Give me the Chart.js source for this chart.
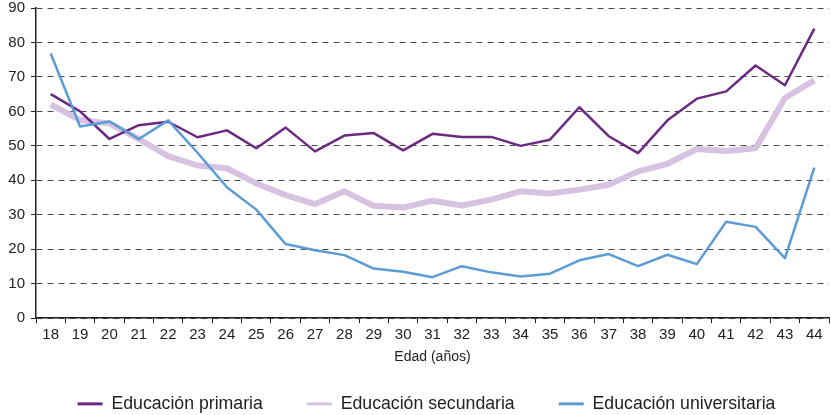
<!DOCTYPE html>
<html>
<head>
<meta charset="utf-8">
<script src="https://cdn.jsdelivr.net/npm/chart.js@4.4.1/dist/chart.umd.min.js"></script>
<style>
html,body{margin:0;padding:0;background:#fff;}
#wrap{width:831px;height:415px;position:relative;}
</style>
</head>
<body>
<div id="wrap"><canvas id="c" width="831" height="415"></canvas></div>
<script>
const ages = ["18","19","20","21","22","23","24","25","26","27","28","29","30","31","32","33","34","35","36","37","38","39","40","41","42","43","44"];
const primaria = [65,60,52,56,57,52.5,54.5,49.3,55.3,48.4,53,53.7,48.7,53.5,52.6,52.6,50,51.8,61.2,52.8,47.9,57.4,63.7,65.8,73.3,67.6,84];
const secundaria = [62,57.5,56.5,52,47,44.3,43.5,39.1,35.7,33.1,36.8,32.6,32.1,34.1,32.7,34.4,36.8,36.2,37.3,38.7,42.6,44.8,49.1,48.5,49.3,63.9,69];
const universitaria = [76.8,55.6,57.1,52,57.4,48,38,31.5,21.5,19.7,18.3,14.4,13.5,11.9,15.1,13.3,12.1,12.9,16.8,18.6,15.1,18.4,15.7,28,26.5,17.4,43.7];
const yTicks = [0,10,20,30,40,50,60,70,80,90];
const seriesNames = ["Educación primaria","Educación secundaria","Educación universitaria"];
const xTitle = "Edad (años)";

const FONT = "'Liberation Sans', Arial, Helvetica, sans-serif";
const colors = ["#6b2a80","#d7c3e1","#5b9bd6"];
const widths = [2.5,6,2.5];

const legendFix = {
  id: 'legendFix',
  beforeLayout(chart) {
    const lg = chart.legend;
    if (lg && !lg._patched) {
      const orig = lg.fit;
      lg.fit = function() { orig.call(this); this.height = 40; };
      lg._patched = true;
    }
  },
  afterLayout(chart) {
    const lg = chart.legend;
    if (lg) { lg.left += 12; lg.right += 12; lg.top = 351; }
  }
};

new Chart(document.getElementById('c'), {
  type: 'line',
  data: {
    labels: ages,
    datasets: [
      {label: seriesNames[0], data: primaria, borderColor: colors[0], backgroundColor: colors[0], borderWidth: widths[0], order: 2},
      {label: seriesNames[1], data: secundaria, borderColor: colors[1], backgroundColor: colors[1], borderWidth: widths[1], order: 3},
      {label: seriesNames[2], data: universitaria, borderColor: colors[2], backgroundColor: colors[2], borderWidth: widths[2], order: 1}
    ]
  },
  plugins: [legendFix],
  options: {
    responsive: false,
    animation: false,
    devicePixelRatio: 1,
    layout: {padding: {left: 0, right: 2, top: 8, bottom: 0}},
    elements: {
      point: {radius: 0, hoverRadius: 0},
      line: {tension: 0, borderJoinStyle: 'round', borderCapStyle: 'butt'}
    },
    plugins: {
      tooltip: {enabled: false},
      legend: {
        position: 'bottom',
        labels: {
          font: {family: FONT, size: 17.7},
          color: '#222',
          boxWidth: 25,
          boxHeight: 3,
          padding: 44,
          generateLabels: (chart) => chart.data.datasets.map((ds, i) => ({
            text: ds.label, fillStyle: ds.borderColor, strokeStyle: ds.borderColor,
            lineWidth: 0, hidden: false, datasetIndex: i, fontColor: '#222'
          }))
        }
      }
    },
    scales: {
      x: {
        offset: true,
        grid: {offset: true, drawOnChartArea: false, drawTicks: true, tickLength: 5, tickColor: '#222', lineWidth: 1},
        border: {display: true, color: '#222', width: 1.5},
        ticks: {font: {family: FONT, size: 15}, color: '#222', padding: 3, maxRotation: 0, autoSkip: false},
        title: {display: true, text: xTitle, font: {family: FONT, size: 14}, color: '#222', padding: {top: 2, bottom: 9}}
      },
      y: {
        min: 0, max: 90,
        afterBuildTicks: (s) => { s.ticks = yTicks.map(v => ({value: v})); },
        afterFit: (s) => { s.width = 36; s.paddingTop = 0; s.paddingBottom = 0; },
        grid: {color: '#4a4a4a', lineWidth: 1, drawTicks: true, tickLength: 5, tickColor: '#222'},
        border: {display: true, color: '#222', width: 1.5, dash: [6,5]},
        ticks: {font: {family: FONT, size: 15}, color: '#222', padding: 6}
      }
    }
  }
});
</script>
</body>
</html>
